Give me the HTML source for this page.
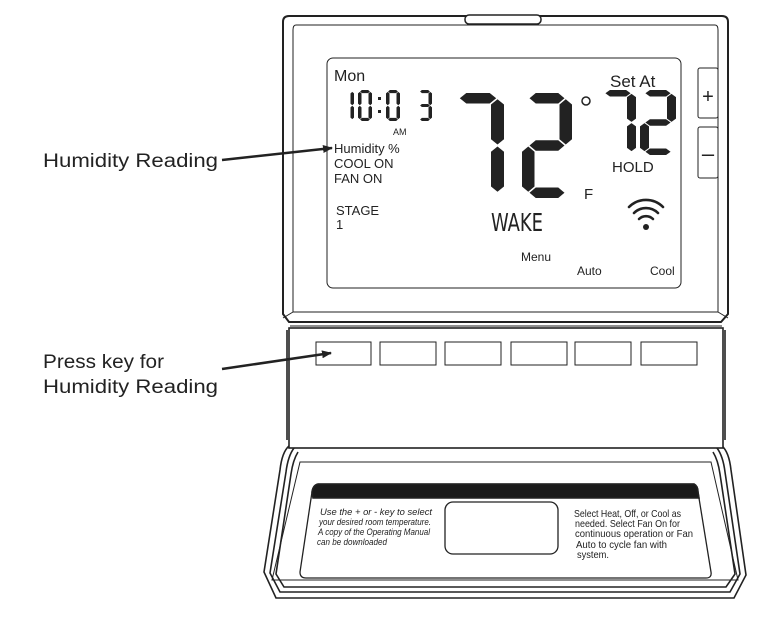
<!DOCTYPE html>
<html><head><meta charset="utf-8"><style>
html,body{margin:0;padding:0;background:#fff;}
svg{display:block;font-family:"Liberation Sans",sans-serif;}
</style></head><body>
<svg width="768" height="617" viewBox="0 0 768 617" xmlns="http://www.w3.org/2000/svg">
<defs>
<marker id="ah" markerWidth="10" markerHeight="8" refX="9" refY="4" orient="auto" markerUnits="userSpaceOnUse"><path d="M0,0 L10,4 L0,8 Z" fill="#222"/></marker>
<g id="sa"><polygon points="6,5 11,0 29,0 34,5 29,10 11,10"/></g>
<g id="sb"><polygon points="35,6 40,11 40,44 35,49 30,44 30,11"/></g>
<g id="sc"><polygon points="35,51 40,56 40,89 35,94 30,89 30,56"/></g>
<g id="sd"><polygon points="6,95 11,90 29,90 34,95 29,100 11,100"/></g>
<g id="se"><polygon points="5,51 10,56 10,89 5,94 0,89 0,56"/></g>
<g id="sf"><polygon points="5,6 10,11 10,44 5,49 0,44 0,11"/></g>
<g id="sg"><polygon points="6,50 11,45 29,45 34,50 29,55 11,55"/></g>
<g id="d7"><use href="#sa"/><use href="#sb"/><use href="#sc"/></g>
<g id="d2"><use href="#sa"/><use href="#sb"/><use href="#sg"/><use href="#se"/><use href="#sd"/></g>
<g id="d1"><use href="#sb"/><use href="#sc"/></g>
<g id="d0"><use href="#sa"/><use href="#sb"/><use href="#sc"/><use href="#sd"/><use href="#se"/><use href="#sf"/></g>
<g id="d3"><use href="#sa"/><use href="#sb"/><use href="#sc"/><use href="#sd"/><use href="#sg"/></g>
</defs>

<!-- left labels -->
<text x="43" y="167" font-size="19" fill="#222" textLength="175" lengthAdjust="spacingAndGlyphs">Humidity Reading</text>
<text x="43" y="368" font-size="19" fill="#222" textLength="121" lengthAdjust="spacingAndGlyphs">Press key for</text>
<text x="43" y="393" font-size="19" fill="#222" textLength="175" lengthAdjust="spacingAndGlyphs">Humidity Reading</text>

<g fill="none" stroke="#222" stroke-width="1.6">
<!-- cover -->
<path d="M289,446 Q282,452 280,470 L264,572 L276,598 L734,598 L746,575 L731,470 Q729,452 722,446" fill="#fff"/>
<path d="M294,448 Q288,456 286,472 L270,573 L280,592 L730,592 L740,574 L725,472 Q723,456 717,448"/>
<path d="M298,452 Q293,460 291,474 L276,574 L284,587 L726,587 L735,574 L720,474 Q718,460 713,452"/>
<path d="M300,462 L711,462 L738,580 L272,580 Z" stroke-width="1"/>
<path d="M318,484 L694,484 Q698,486 698,492 L711,572 Q712,578 706,578 L306,578 Q300,578 300,572 L312,492 Q313,485 318,484 Z" stroke-width="1.3"/>
<path d="M318,484 L694,484 Q698,486 698,492 L699,498 L313,498 L312,492 Q313,485 318,484 Z" fill="#1a1a1a"/>
<rect x="445" y="502" width="113" height="52" rx="8" stroke-width="1.3"/>

<!-- lower panel -->
<rect x="289" y="328" width="434" height="120" fill="#fff"/>
<line x1="287" y1="330" x2="287" y2="440"/>
<line x1="725" y1="330" x2="725" y2="440"/>
<rect x="316" y="342" width="55" height="23" stroke-width="1"/>
<rect x="380" y="342" width="56" height="23" stroke-width="1"/>
<rect x="445" y="342" width="56" height="23" stroke-width="1"/>
<rect x="511" y="342" width="56" height="23" stroke-width="1"/>
<rect x="575" y="342" width="56" height="23" stroke-width="1"/>
<rect x="641" y="342" width="56" height="23" stroke-width="1"/>

<!-- housing -->
<path d="M289,16 L722,16 Q728,16 728,22 L728,314 L721,322 L289,322 L283,314 L283,22 Q283,16 289,16 Z" fill="#fff" stroke-width="2"/>
<path d="M296,25 L715,25 Q718,25 718,30 L718,312 L293,312 L293,30 Q293,25 296,25 Z" stroke-width="1"/>
<line x1="293" y1="312" x2="283" y2="318" stroke-width="1"/>
<line x1="718" y1="312" x2="728" y2="318" stroke-width="1"/>
<line x1="290" y1="326" x2="722" y2="326" stroke-width="1"/>
<rect x="465" y="15" width="76" height="9" rx="4" fill="#fff" stroke-width="1.5"/>
<rect x="327" y="58" width="354" height="230" rx="6" stroke-width="1"/>
<rect x="698" y="68" width="20" height="50" rx="2" stroke-width="1"/>
<rect x="698" y="127" width="20" height="51" rx="2" stroke-width="1"/>
</g>
<text x="708" y="103" font-size="20" text-anchor="middle" fill="#222">+</text>
<text x="708" y="161" font-size="22" text-anchor="middle" fill="#222">–</text>

<!-- LCD content -->
<g fill="#222">
<use href="#d7" transform="translate(452,93) scale(1.3,1.05)"/>
<use href="#d2" transform="translate(522,93) scale(1.25,1.05)"/>
<use href="#d7" transform="translate(600,90) scale(0.9,0.65)"/>
<use href="#d2" transform="translate(640,90) scale(0.9,0.65)"/>
<use href="#d1" transform="translate(340,90) scale(0.35,0.31)"/>
<use href="#d0" transform="translate(358,90) scale(0.35,0.31)"/>
<use href="#d0" transform="translate(386,90) scale(0.35,0.31)"/>
<use href="#d3" transform="translate(418,90) scale(0.35,0.31)"/>
<rect x="378" y="97" width="3" height="3"/><rect x="378" y="110" width="3" height="3"/>
</g>
<circle cx="586" cy="101" r="4" fill="none" stroke="#222" stroke-width="1.5"/>
<g fill="#222">
<text x="334" y="81" font-size="16">Mon</text>
<text x="393" y="135" font-size="9">AM</text>
<text x="334" y="153" font-size="13">Humidity %</text>
<text x="334" y="168" font-size="13">COOL ON</text>
<text x="334" y="183" font-size="13">FAN ON</text>
<text x="336" y="215" font-size="13">STAGE</text>
<text x="336" y="229" font-size="13">1</text>
<text x="610" y="87" font-size="17">Set At</text>
<text x="612" y="172" font-size="15">HOLD</text>
<text x="584" y="199" font-size="15">F</text>
<text x="491" y="231" font-size="25" textLength="52" lengthAdjust="spacingAndGlyphs" font-family="'DejaVu Sans Condensed','Liberation Sans Narrow',sans-serif" font-weight="100">WAKE</text>
<text x="521" y="261" font-size="12">Menu</text>
<text x="577" y="275" font-size="12">Auto</text>
<text x="650" y="275" font-size="12">Cool</text>
<circle cx="646" cy="227" r="3"/>
</g>
<g fill="none" stroke="#222" stroke-width="2.6" stroke-linecap="round">
<path d="M639,219 A10,10 0 0 1 653,219"/>
<path d="M634,213 A17,17 0 0 1 658,213"/>
<path d="M629,207 A24,24 0 0 1 663,207"/>
</g>

<!-- cover texts -->
<g fill="#222" font-style="italic" font-size="9">
<text x="320" y="515" textLength="112" lengthAdjust="spacingAndGlyphs">Use the  +  or  -  key to select</text>
<text x="319" y="525" textLength="112" lengthAdjust="spacingAndGlyphs">your desired room temperature.</text>
<text x="318" y="535" textLength="112" lengthAdjust="spacingAndGlyphs">A copy of the Operating Manual</text>
<text x="317" y="545" textLength="70" lengthAdjust="spacingAndGlyphs">can be downloaded</text>
</g>
<g fill="#222" font-size="10.5">
<text x="574" y="517" textLength="107" lengthAdjust="spacingAndGlyphs">Select Heat, Off, or Cool as</text>
<text x="575" y="527" textLength="105" lengthAdjust="spacingAndGlyphs">needed.  Select Fan On for</text>
<text x="575" y="537" textLength="118" lengthAdjust="spacingAndGlyphs">continuous operation or Fan</text>
<text x="576" y="548" textLength="91" lengthAdjust="spacingAndGlyphs">Auto to cycle fan with</text>
<text x="577" y="558" textLength="32" lengthAdjust="spacingAndGlyphs">system.</text>
</g>

<!-- arrows on top -->
<line x1="222" y1="160" x2="332" y2="148" stroke="#222" stroke-width="2.5" marker-end="url(#ah)"/>
<line x1="222" y1="369" x2="331" y2="353" stroke="#222" stroke-width="2.5" marker-end="url(#ah)"/>
</svg>
</body></html>
